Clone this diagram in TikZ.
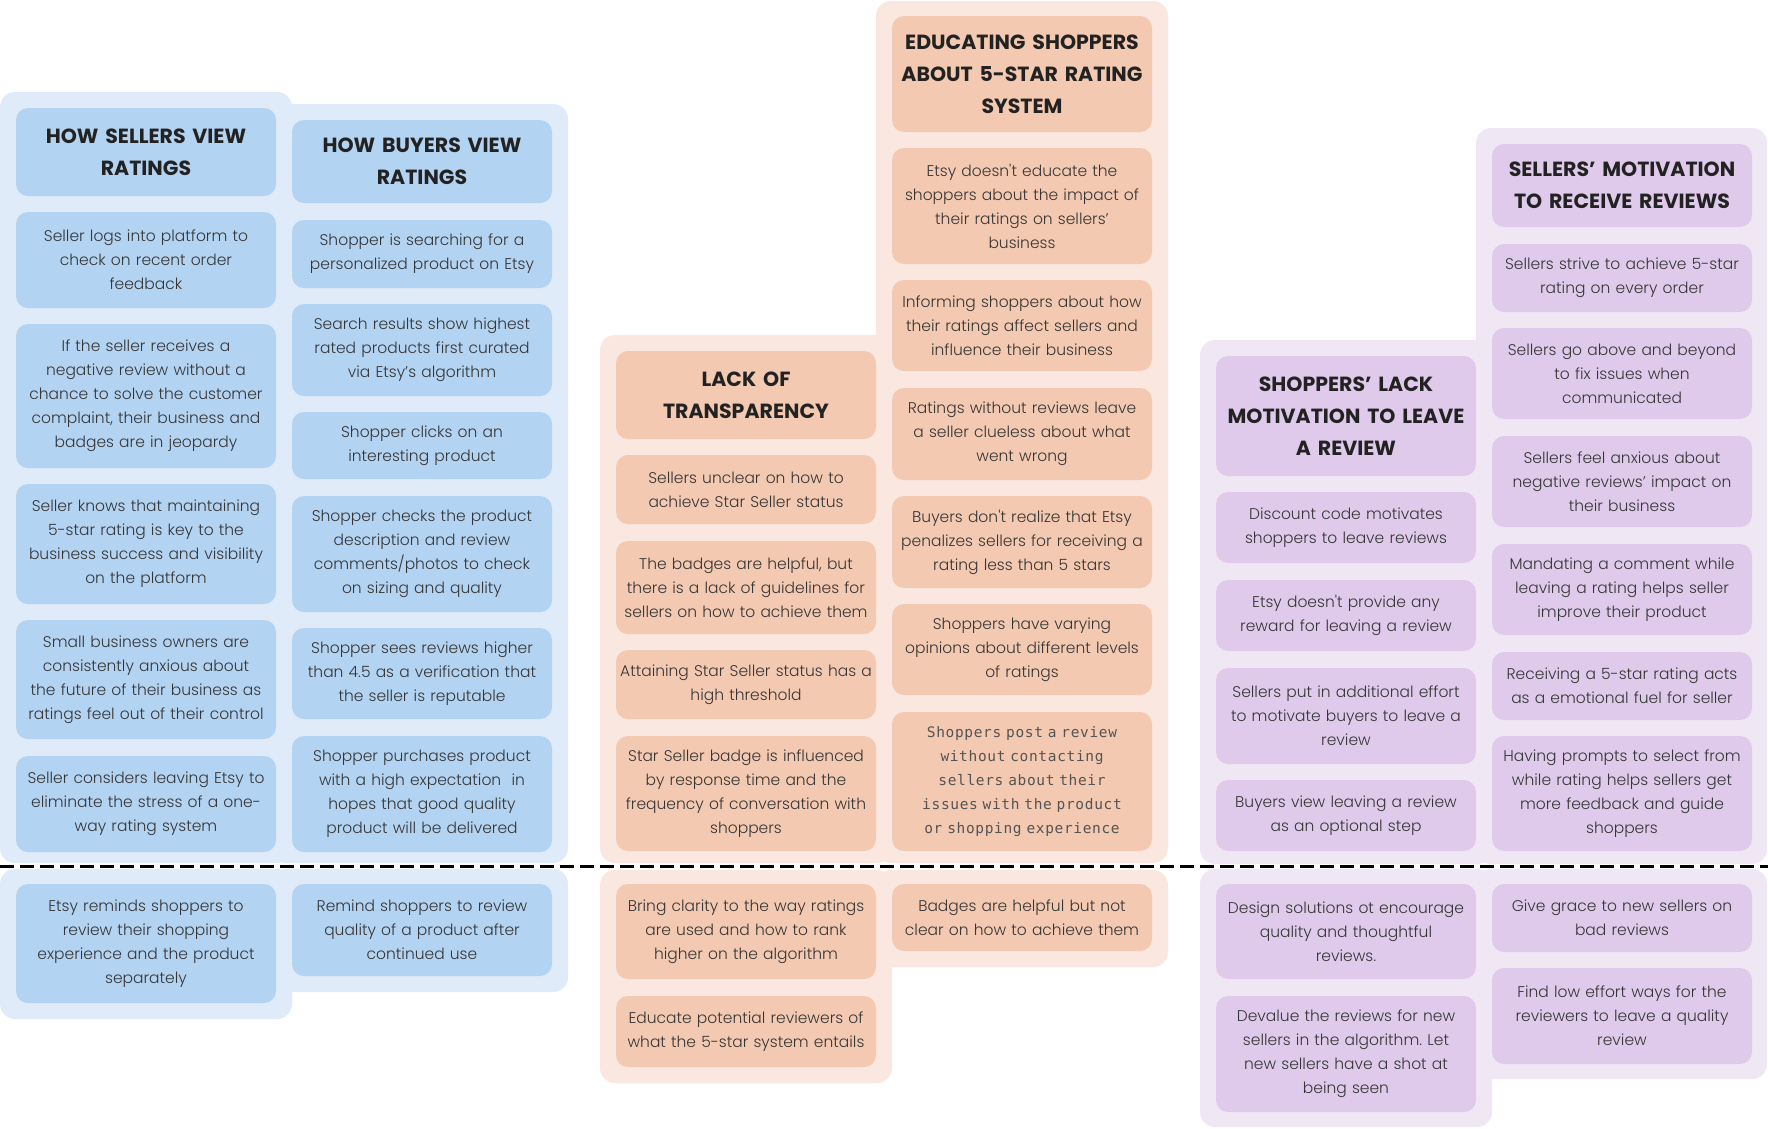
\documentclass[tikz,border=0pt]{standalone}
\usepackage{fontspec}
\newfontfamily\bodyfont{Poppins}[UprightFont=* Light]
\newfontfamily\headfont{Poppins}[UprightFont=* Bold]
\newfontfamily\monofont{DejaVu Sans Mono}[LetterSpace=4.5]
\definecolor{bluebox}{HTML}{B3D3F2}
\definecolor{bluepanel}{HTML}{DFEBF8}
\definecolor{orabox}{HTML}{F4C9B1}
\definecolor{orapanel}{HTML}{FAE7DF}
\definecolor{purbox}{HTML}{DFCAEB}
\definecolor{purpanel}{HTML}{F0E7F5}
\definecolor{txt}{HTML}{363636}
\definecolor{headtxt}{HTML}{222222}
\tikzset{
  cardbox/.style={rounded corners=12pt, text width=258pt, align=center, inner sep=0pt,
    font=\bodyfont\frenchspacing\fontsize{15.5}{24}\selectfont, text=txt},
  headbox/.style={cardbox, font=\headfont\fontsize{20.5}{32}\selectfont, text=headtxt},
  monobox/.style={cardbox, font=\monofont\fontsize{14.5}{24}\selectfont, text=txt!85},
  blue/.style={fill=bluebox}, ora/.style={fill=orabox}, pur/.style={fill=purbox},
  panel/.style={rounded corners=15pt},
  divider/.style={line width=3pt, dash pattern=on 14pt off 6pt, black}
}
\newcommand\pb[7]{\node[#1, minimum width={(#5-#3)*1pt}, minimum height={(#6-#4)*1pt}] (#2) at ({(#3+#5)/2},{(#4+#6)/2}) {#7};}
\begin{document}
\begin{tikzpicture}[x=1pt,y=-1pt]
\useasboundingbox (0,0) rectangle (1768,1128);
% panels
\fill[bluepanel, panel] (0,92) rectangle (292,863);
\fill[bluepanel, panel] (272,104) rectangle (568,863);
\fill[bluepanel, panel] (0,869) rectangle (292,1019);
\fill[bluepanel, panel] (272,869) rectangle (568,992);
\fill[orapanel, panel] (600,335) rectangle (892,863);
\fill[orapanel, panel] (876,1) rectangle (1168,863);
\fill[orapanel, panel] (600,870) rectangle (892,1083);
\fill[orapanel, panel] (876,870) rectangle (1168,967);
\fill[purpanel, panel] (1200,340) rectangle (1492,864);
\fill[purpanel, panel] (1476,128) rectangle (1767,864);
\fill[purpanel, panel] (1200,869) rectangle (1492,1127);
\fill[purpanel, panel] (1476,869) rectangle (1767,1079);
% sellers view
\pb{headbox,blue}{sh}{16}{108}{276}{196}{HOW SELLERS VIEW\\RATINGS}
\pb{cardbox,blue}{s1}{16}{212}{276}{308}{Seller logs into platform to\\check on recent order\\feedback}
\pb{cardbox,blue}{s2}{16}{324}{276}{468}{If the seller receives a\\negative review without a\\chance to solve the customer\\complaint, their business and\\badges are in jeopardy}
\pb{cardbox,blue}{s3}{16}{484}{276}{604}{Seller knows that maintaining\\5-star rating is key to the\\business success and visibility\\on the platform}
\pb{cardbox,blue}{s4}{16}{620}{276}{739}{Small business owners are\\consistently anxious about\\the future of their business as\\ratings feel out of their control}
\pb{cardbox,blue}{s5}{16}{756}{276}{852}{Seller considers leaving Etsy to\\eliminate the stress of a one-\\way rating system}
\pb{cardbox,blue}{s6}{16}{884}{276}{1003}{Etsy reminds shoppers to\\review their shopping\\experience and the product\\separately}
% buyers view
\pb{headbox,blue}{bh}{292}{120}{552}{203}{HOW BUYERS VIEW\\RATINGS}
\pb{cardbox,blue}{b1}{292}{220}{552}{288}{Shopper is searching for a\\personalized product on Etsy}
\pb{cardbox,blue}{b2}{292}{304}{552}{396}{Search results show highest\\rated products first curated\\via Etsy’s algorithm}
\pb{cardbox,blue}{b3}{292}{412}{552}{479}{Shopper clicks on an\\interesting product}
\pb{cardbox,blue}{b4}{292}{496}{552}{612}{Shopper checks the product\\description and review\\comments/photos to check\\on sizing and quality}
\pb{cardbox,blue}{b5}{292}{628}{552}{719}{Shopper sees reviews higher\\than 4.5 as a verification that\\the seller is reputable}
\pb{cardbox,blue}{b6}{292}{736}{552}{852}{Shopper purchases product\\with a high expectation~ in\\hopes that good quality\\product will be delivered}
\pb{cardbox,blue}{b7}{292}{884}{552}{976}{Remind shoppers to review\\quality of a product after\\continued use}
% lack of transparency
\pb{headbox,ora}{lh}{616}{351}{876}{439}{LACK OF\\TRANSPARENCY}
\pb{cardbox,ora}{l1}{616}{455}{876}{524}{Sellers unclear on how to\\achieve Star Seller status}
\pb{cardbox,ora}{l2}{616}{541}{876}{634}{The badges are helpful, but\\there is a lack of guidelines for\\sellers on how to achieve them}
\pb{cardbox,ora}{l3}{616}{650}{876}{719}{Attaining Star Seller status has a\\high threshold}
\pb{cardbox,ora}{l4}{616}{736}{876}{851}{Star Seller badge is influenced\\by response time and the\\frequency of conversation with\\shoppers}
\pb{cardbox,ora}{l5}{616}{884}{876}{979}{Bring clarity to the way ratings\\are used and how to rank\\higher on the algorithm}
\pb{cardbox,ora}{l6}{616}{996}{876}{1067}{Educate potential reviewers of\\what the 5-star system entails}
% educating shoppers
\pb{headbox,ora}{eh}{892}{16}{1152}{132}{EDUCATING SHOPPERS\\ABOUT 5-STAR RATING\\SYSTEM}
\pb{cardbox,ora}{e1}{892}{148}{1152}{264}{Etsy doesn't educate the\\shoppers about the impact of\\their ratings on sellers’\\business}
\pb{cardbox,ora}{e2}{892}{280}{1152}{371}{Informing shoppers about how\\their ratings affect sellers and\\influence their business}
\pb{cardbox,ora}{e3}{892}{388}{1152}{480}{Ratings without reviews leave\\a seller clueless about what\\went wrong}
\pb{cardbox,ora}{e4}{892}{496}{1152}{588}{Buyers don't realize that Etsy\\penalizes sellers for receiving a\\rating less than 5 stars}
\pb{cardbox,ora}{e5}{892}{604}{1152}{695}{Shoppers have varying\\opinions about different levels\\of ratings}
\pb{monobox,ora}{e6}{892}{712}{1152}{851}{Shoppers post a review\\without contacting\\sellers about their\\issues with the product\\or shopping experience}
\pb{cardbox,ora}{e7}{892}{884}{1152}{951}{Badges are helpful but not\\clear on how to achieve them}
% shoppers lack motivation
\pb{headbox,pur}{slh}{1216}{356}{1476}{476}{SHOPPERS’ LACK\\MOTIVATION TO LEAVE\\A REVIEW}
\pb{cardbox,pur}{sl1}{1216}{492}{1476}{563}{Discount code motivates\\shoppers to leave reviews}
\pb{cardbox,pur}{sl2}{1216}{580}{1476}{651}{Etsy doesn't provide any\\reward for leaving a review}
\pb{cardbox,pur}{sl3}{1216}{668}{1476}{764}{Sellers put in additional effort\\to motivate buyers to leave a\\review}
\pb{cardbox,pur}{sl4}{1216}{780}{1476}{851}{Buyers view leaving a review\\as an optional step}
\pb{cardbox,pur}{sl5}{1216}{884}{1476}{979}{Design solutions ot encourage\\quality and thoughtful\\reviews.}
\pb{cardbox,pur}{sl6}{1216}{996}{1476}{1112}{Devalue the reviews for new\\sellers in the algorithm. Let\\new sellers have a shot at\\being seen}
% sellers motivation
\pb{headbox,pur}{mh}{1492}{144}{1752}{227}{SELLERS’ MOTIVATION\\TO RECEIVE REVIEWS}
\pb{cardbox,pur}{m1}{1492}{244}{1752}{312}{Sellers strive to achieve 5-star\\rating on every order}
\pb{cardbox,pur}{m2}{1492}{328}{1752}{419}{Sellers go above and beyond\\to fix issues when\\communicated}
\pb{cardbox,pur}{m3}{1492}{436}{1752}{527}{Sellers feel anxious about\\negative reviews’ impact on\\their business}
\pb{cardbox,pur}{m4}{1492}{544}{1752}{635}{Mandating a comment while\\leaving a rating helps seller\\improve their product}
\pb{cardbox,pur}{m5}{1492}{652}{1752}{720}{Receiving a 5-star rating acts\\as a emotional fuel for seller}
\pb{cardbox,pur}{m6}{1492}{736}{1752}{851}{Having prompts to select from\\while rating helps sellers get\\more feedback and guide\\shoppers}
\pb{cardbox,pur}{m7}{1492}{884}{1752}{952}{Give grace to new sellers on\\bad reviews}
\pb{cardbox,pur}{m8}{1492}{968}{1752}{1064}{Find low effort ways for the\\reviewers to leave a quality\\review}
% divider
\coordinate (dl) at (0,866.5);
\coordinate (dr) at (1768,866.5);
\draw[divider] (dl) -- (dr);
\end{tikzpicture}
\end{document}
